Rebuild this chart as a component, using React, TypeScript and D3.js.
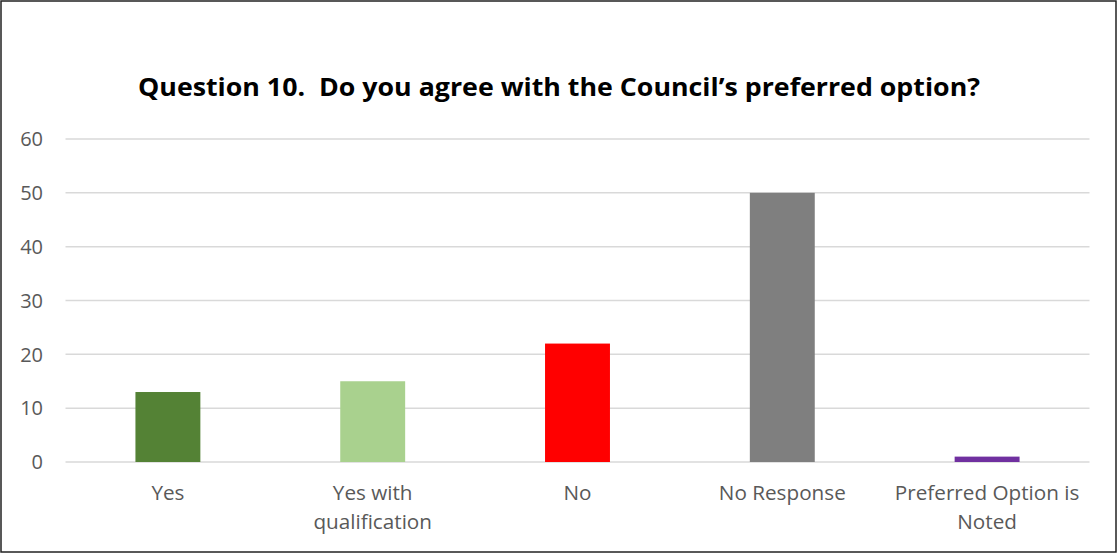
import React from "react";
import * as d3 from "d3";

const categories: string[][] = [
  ["Yes"],
  ["Yes with", "qualification"],
  ["No"],
  ["No Response"],
  ["Preferred Option is", "Noted"],
];
const values: number[] = [13, 15, 22, 50, 1];
const colors: string[] = ["#548235", "#A9D18E", "#FF0000", "#7F7F7F", "#7030A0"];
const yTicks: number[] = [0, 10, 20, 30, 40, 50, 60];
const title = "Question 10.  Do you agree with the Council\u2019s preferred option?";

const W = 1118;
const H = 554;
const left = 65.5;
const right = 1089.5;
const top = 139;
const bottom = 462;
const font = "'Open Sans', sans-serif";

export default function App() {
  const keys = categories.map((c) => c.join(" "));
  const x = d3.scaleBand<string>().domain(keys).range([left, right]).paddingInner(0.683).paddingOuter(0.3415);
  const y = d3.scaleLinear().domain([0, 60]).range([bottom, top]);
  return (
    <svg width={W} height={H} style={{ position: "absolute", left: 0, top: 0 }}>
      <rect x={0} y={0} width={W} height={H} fill="#fff" />
      <rect x={1} y={1} width={1115} height={551} fill="none" stroke="#222" strokeWidth={1.5} />
      <text
        x={559}
        y={96}
        textAnchor="middle"
        fontFamily={font}
        fontWeight="bold"
        fontSize={25}
        fill="#000"
        textLength={842}
        lengthAdjust="spacingAndGlyphs"
        style={{ whiteSpace: "pre" }}
      >
        {title}
      </text>
      {yTicks.map((t) => (
        <g key={t}>
          <line x1={left} x2={right} y1={y(t)} y2={y(t)} stroke="#D9D9D9" strokeWidth={1.5} />
          <text x={43} y={y(t)} dy="0.36em" textAnchor="end" fontFamily={font} fontSize={20} fill="#595959">
            {t}
          </text>
        </g>
      ))}
      {values.map((v, i) => (
        <rect
          key={keys[i]}
          x={x(keys[i])}
          y={y(v)}
          width={x.bandwidth()}
          height={y(0) - y(v)}
          fill={colors[i]}
        />
      ))}
      {categories.map((lines, i) => (
        <text
          key={keys[i]}
          x={(x(keys[i]) as number) + x.bandwidth() / 2}
          y={493}
          textAnchor="middle"
          fontFamily={font}
          fontSize={20.7}
          fill="#595959"
        >
          {lines.map((l, j) => (
            <tspan key={j} x={(x(keys[i]) as number) + x.bandwidth() / 2} y={493 + j * 29} dy="0.36em">
              {l}
            </tspan>
          ))}
        </text>
      ))}
    </svg>
  );
}
